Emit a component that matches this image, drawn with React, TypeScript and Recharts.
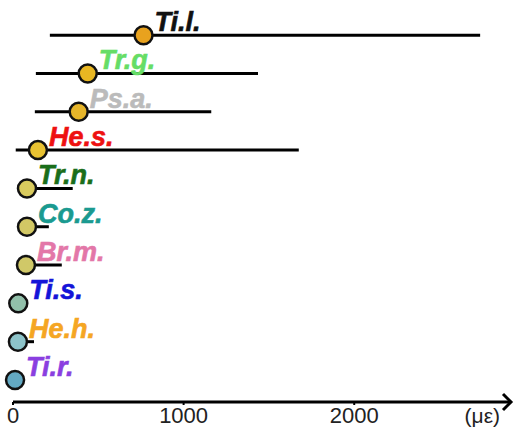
import React from 'react';
import { ScatterChart, Scatter, XAxis, YAxis, ErrorBar, ReferenceDot } from 'recharts';

const species = ['Ti.l.', 'Tr.g.', 'Ps.a.', 'He.s.', 'Tr.n.', 'Co.z.', 'Br.m.', 'Ti.s.', 'He.h.', 'Ti.r.'];
const means = [765, 438, 385, 146, 82, 82, 76, 31, 29, 12];
const lows = [216, 134, 128, 16, 30, 60, 50, 20, 10, 0];
const highs = [2738, 1436, 1162, 1675, 350, 210, 286, 50, 123, 40];
const xTicks = [0, 1000, 2000];
const xMax = 2913;
const unitLabel = '(με)';

const labelColors = ['#111111', '#66DD66', '#BBBBBB', '#EE1111', '#1A6E1A', '#1A9A90', '#E377A8', '#1414D8', '#F5A623', '#8A3FE0'];
const dotColors = ['#E8A21E', '#E9B722', '#E6B52A', '#E8C232', '#D9CB5E', '#D2C865', '#D0C868', '#92C0AA', '#8DC3C9', '#63A9C3'];

const data = species.map((s, i) => ({
  name: s,
  x: means[i],
  y: species.length - i,
  err: [means[i] - lows[i], highs[i] - means[i]],
  labelColor: labelColors[i],
  dotColor: dotColors[i],
}));

const yLo = 0.426;
const yHi = 10.5;

const Dot = (props: any) => {
  const { cx, cy, payload } = props;
  return (
    <g>
      <circle cx={cx} cy={cy} r={9} fill={payload.dotColor} stroke="#111" strokeWidth={2.5} />
      <text
        x={cx + 11}
        y={cy - 4}
        fill={payload.labelColor}
        fontFamily="'Liberation Sans', Arial, sans-serif"
        fontWeight="bold"
        fontStyle="italic"
        fontSize={27}
        stroke={payload.labelColor}
        strokeWidth={0.6}
      >
        {payload.name}
      </text>
    </g>
  );
};

const Arrow = (props: any) => {
  const { cx, cy } = props;
  return (
    <g>
      <path d={`M${cx - 7},${cy - 8} L${cx + 1},${cy} L${cx - 7},${cy + 8}`} stroke="#000" strokeWidth={3} fill="none" />
      <text x={cx - 10} y={cy + 21} textAnchor="end" fontSize={21} fill="#222" fontFamily="'Liberation Sans', Arial, sans-serif">
        {unitLabel}
      </text>
    </g>
  );
};

export default function App() {
  return (
    <div style={{ position: 'absolute', left: 0, top: 0, background: '#fff' }}>
      <ScatterChart width={515} height={434} margin={{ top: 16, right: 5, left: 13, bottom: 2 }}>
        <XAxis
          type="number"
          dataKey="x"
          domain={[0, xMax]}
          ticks={xTicks}
          axisLine={{ stroke: '#000', strokeWidth: 3 }}
          tickLine={{ stroke: '#000', strokeWidth: 2 }}
          tickSize={3}
          tick={{ fontSize: 22, fill: '#222', fontFamily: "'Liberation Sans', Arial, sans-serif" }}
          height={30}
        />
        <YAxis type="number" dataKey="y" domain={[yLo, yHi]} hide />
        <Scatter data={data} shape={Dot} isAnimationActive={false}>
          <ErrorBar dataKey="err" direction="x" width={0} stroke="#000" strokeWidth={3} isAnimationActive={false} />
        </Scatter>
        <ReferenceDot x={xMax} y={yLo} ifOverflow="visible" shape={Arrow} />
      </ScatterChart>
    </div>
  );
}
